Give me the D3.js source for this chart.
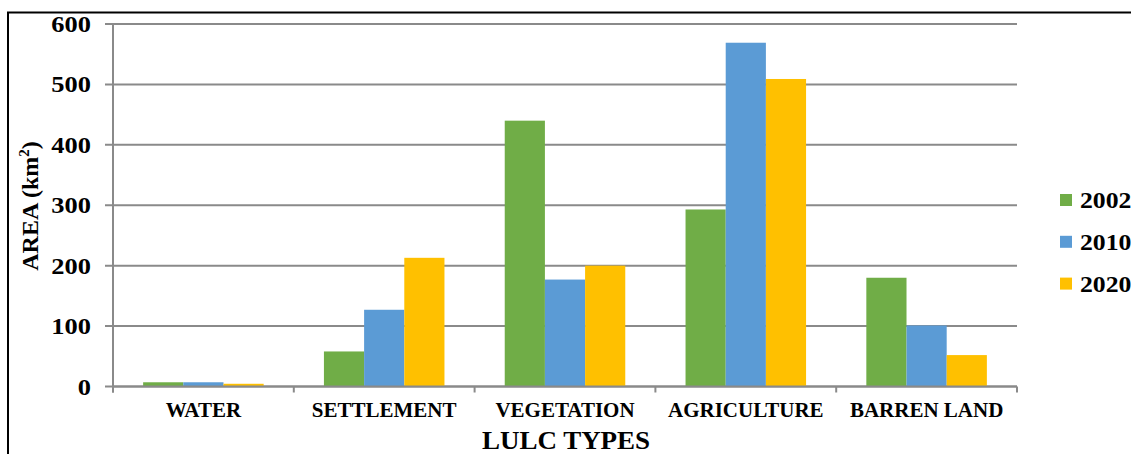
<!DOCTYPE html>
<html>
<head>
<meta charset="utf-8">
<script src="https://cdn.jsdelivr.net/npm/d3@7/dist/d3.min.js"></script>
<style>
  html, body { margin: 0; padding: 0; background: #fff; }
  svg { display: block; }
  text { font-family: "Liberation Serif", "Times New Roman", serif; font-weight: bold; fill: #000; }
</style>
</head>
<body>
<svg id="chart" width="1131" height="454"></svg>
<script>
// LULC area by class and year
const categories = ["WATER", "SETTLEMENT", "VEGETATION", "AGRICULTURE", "BARREN LAND"];
const years = ["2002", "2010", "2020"];
const area2002 = [7, 58, 440, 293, 180];
const area2010 = [7, 127, 177, 569, 101];
const area2020 = [4.5, 213, 200, 509, 52];
const yTicks = [0, 100, 200, 300, 400, 500, 600];
const colors = ["#70AD47", "#5B9BD5", "#FFC000"];

const series = [area2002, area2010, area2020];

const svg = d3.select("#chart");
const plot = { left: 113, right: 1017, top: 24, bottom: 386.5 };

const x = d3.scaleBand().domain(categories).range([plot.left, plot.right]).paddingInner(0).paddingOuter(0);
const y = d3.scaleLinear().domain([0, 600]).range([plot.bottom, plot.top]);
// three bars fill 2/3 of each category slot
const xInner = d3.scaleBand().domain(years).range([0, x.bandwidth()]).paddingOuter(0.75).paddingInner(0);

// outer frame
svg.append("rect")
  .attr("x", 8).attr("y", 12.5)
  .attr("width", 1200).attr("height", 500)
  .attr("fill", "none").attr("stroke", "#000").attr("stroke-width", 2);

// horizontal gridlines (with short outward ticks)
svg.append("g").selectAll("line").data(yTicks).join("line")
  .attr("x1", plot.left - 8).attr("x2", plot.right)
  .attr("y1", d => y(d)).attr("y2", d => y(d))
  .attr("stroke", "#8a8a8a").attr("stroke-width", 2);

// y axis labels
const yAxis = d3.axisLeft(y).tickValues(yTicks).tickSize(0).tickPadding(0);
const gy = svg.append("g").attr("transform", `translate(${plot.left - 22},0)`).call(yAxis);
gy.select(".domain").remove();
gy.selectAll("text")
  .attr("x", null).attr("dy", null)
  .style("font-size", "23px")
  .attr("text-anchor", "end")
  .attr("transform", function(d) { return `translate(0,${y(d) + 8}) scale(1.15,1)`; })
  .attr("y", null);
gy.selectAll(".tick").attr("transform", null);

// bars
const groups = svg.append("g").selectAll("g").data(categories).join("g")
  .attr("transform", d => `translate(${x(d)},0)`);
groups.selectAll("rect")
  .data((c, i) => years.map((yr, k) => ({ yr, v: series[k][i], k })))
  .join("rect")
  .attr("x", d => xInner(d.yr))
  .attr("width", xInner.bandwidth())
  .attr("y", d => y(d.v))
  .attr("height", d => y(0) - y(d.v))
  .attr("fill", d => colors[d.k]);

// y axis line
svg.append("line")
  .attr("x1", plot.left).attr("x2", plot.left)
  .attr("y1", plot.top).attr("y2", plot.bottom + 6)
  .attr("stroke", "#8a8a8a").attr("stroke-width", 2);

// x axis line and category boundary ticks
svg.append("line")
  .attr("x1", plot.left).attr("x2", plot.right)
  .attr("y1", y(0)).attr("y2", y(0))
  .attr("stroke", "#8a8a8a").attr("stroke-width", 2);
const bounds = categories.map(c => x(c)).concat([x(categories[categories.length - 1]) + x.bandwidth()]);
svg.append("g").selectAll("line").data(bounds).join("line")
  .attr("x1", d => d).attr("x2", d => d)
  .attr("y1", y(0)).attr("y2", y(0) + 6)
  .attr("stroke", "#8a8a8a").attr("stroke-width", 2);

// category labels
svg.append("g").selectAll("text").data(categories).join("text")
  .attr("x", d => x(d) + x.bandwidth() / 2)
  .attr("y", 417)
  .attr("text-anchor", "middle")
  .style("font-size", "21px")
  .text(d => d);

// axis titles
svg.append("text")
  .attr("text-anchor", "middle")
  .attr("transform", `translate(566,449) scale(1.08,1)`)
  .style("font-size", "25px")
  .text("LULC TYPES");

const yt = svg.append("text")
  .attr("text-anchor", "middle")
  .attr("transform", `translate(38,206) rotate(-90)`)
  .style("font-size", "24px");
yt.append("tspan").text("AREA (km");
yt.append("tspan").attr("dy", -9).style("font-size", "15px").text("2");
yt.append("tspan").attr("dy", 9).text(")");

// legend
const legend = svg.append("g").selectAll("g").data(years).join("g")
  .attr("transform", (d, i) => `translate(1060,${200 + i * 41.8})`);
legend.append("rect")
  .attr("x", 0).attr("y", -6).attr("width", 12).attr("height", 12)
  .attr("fill", (d, i) => colors[i]);
legend.append("text")
  .attr("transform", "translate(20,8) scale(1.12,1)")
  .style("font-size", "23px")
  .text(d => d);
</script>
</body>
</html>
